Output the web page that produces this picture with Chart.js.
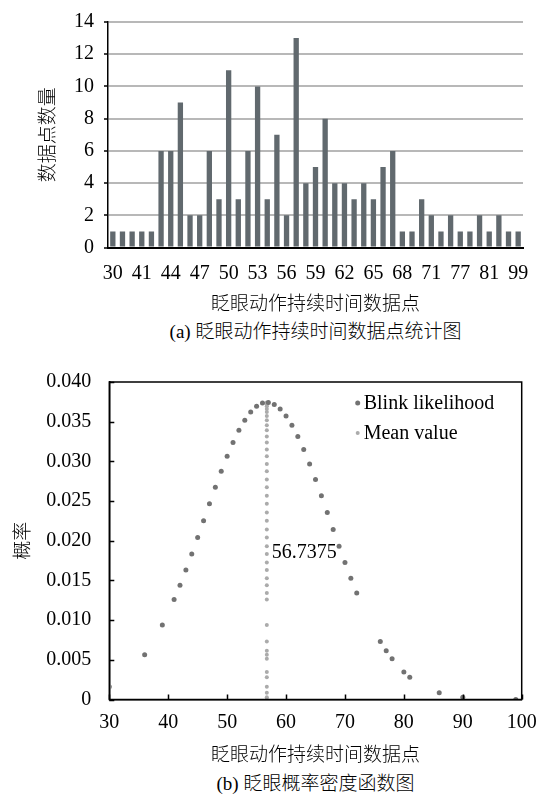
<!DOCTYPE html>
<html>
<head>
<meta charset="utf-8">
<script src="https://cdn.jsdelivr.net/npm/chart.js@4.4.1/dist/chart.umd.min.js"></script>
<style>
html,body{margin:0;padding:0;background:#fff;}
body{width:546px;height:799px;position:relative;overflow:hidden;font-family:'Liberation Serif','Noto Sans CJK SC',serif;color:#000;}
#c1{position:absolute;left:0;top:0;}
#c2{position:absolute;left:0;top:360px;}
.cap{position:absolute;left:108px;width:415px;text-align:center;font-size:19px;line-height:22px;white-space:nowrap;font-weight:300;}
</style>
</head>
<body>
<canvas id="c1" width="546" height="320"></canvas>
<div class="cap" style="top:321px;">(a) 眨眼动作持续时间数据点统计图</div>
<canvas id="c2" width="546" height="410"></canvas>
<div class="cap" style="top:773px;">(b) 眨眼概率密度函数图</div>
<script>
// ---------- data ----------
const categories = [30,36,39,41,42,43,44,45,46,47,48,49,50,51,52,53,54,55,56,57,58,59,60,61,62,63,64,65,66,67,68,69,70,71,72,76,77,78,80,81,86,90,99];
const counts     = [1,1,1,1,1,6,6,9,2,2,6,3,11,3,6,10,3,7,2,13,4,5,8,4,4,3,4,3,5,6,1,1,3,2,1,2,1,1,2,1,2,1,1];
const shownTicks = [30,41,44,47,50,53,56,59,62,65,68,71,77,81,99];

const pdfX = [30,36,39,41,42,43,44,45,46,47,48,49,50,51,52,53,54,55,56,57,58,59,60,61,62,63,64,65,66,67,68,69,70,71,72,76,77,78,80,81,86,90,99];
const pdfY = [0.00161,0.00564,0.00938,0.01259,0.01439,0.01631,0.01833,0.02041,0.02253,0.02466,0.02675,0.02876,0.03065,0.03238,0.03391,0.03519,0.03621,0.03693,0.03734,0.03741,0.03716,0.03659,0.03571,0.03455,0.03313,0.03149,0.02967,0.02771,0.02566,0.02355,0.02142,0.01931,0.01726,0.01529,0.01343,0.00731,0.00615,0.00512,0.00346,0.00281,0.00086,0.00029,0.00001];
const meanValue = 56.7375;
const meanLabelY = 0.0185;

const FONT = "'Liberation Serif','Noto Sans CJK SC',serif";
Chart.defaults.font.family = FONT;
Chart.defaults.font.size = 20;
Chart.defaults.color = '#000';
const titleFont = { size: 19, weight: '300' };

// ---------- chart (a) ----------
new Chart(document.getElementById('c1'), {
  type: 'bar',
  data: {
    labels: categories,
    datasets: [{ label: 'count', data: counts, backgroundColor: '#61696e', barPercentage: 0.55, categoryPercentage: 1.0 }]
  },
  options: {
    responsive: false, animation: false, devicePixelRatio: 1,
    layout: { padding: { top: 19, right: 23, left: 0, bottom: 0 } },
    plugins: { legend: { display: false }, tooltip: { enabled: false } },
    scales: {
      x: {
        type: 'category',
        grid: { display: false },
        border: { display: true, color: '#000', width: 2 },
        ticks: {
          autoSkip: false, maxRotation: 0, padding: 6,
          callback: function(v, i) { const l = categories[i]; return shownTicks.includes(l) ? String(l) : ''; }
        },
        title: { display: true, text: '眨眼动作持续时间数据点', font: titleFont, padding: { top: 0, bottom: 4 } },
        afterFit: s => { s.height = 72.4; }
      },
      y: {
        min: 0, max: 14,
        ticks: { stepSize: 2, padding: 10 },
        grid: {
          display: true, drawOnChartArea: true, drawTicks: true,
          color: '#b8b8b8', lineWidth: 2,
          tickColor: '#000', tickLength: 4, tickWidth: 1.5
        },
        border: { display: true, color: '#000', width: 1.5 },
        title: { display: true, text: '数据点数量', font: titleFont, padding: { top: 38, bottom: 0 } },
        afterFit: s => { s.width = 108; }
      }
    }
  }
});

// ---------- chart (b) ----------
const boxPlugin = {
  id: 'boxPlugin',
  afterDraw(chart) {
    const { ctx, chartArea: a, scales: { x, y } } = chart;
    ctx.save();
    ctx.strokeStyle = '#000';
    ctx.lineWidth = 1.5;
    ctx.strokeRect(a.left, a.top, a.right - a.left, a.bottom - a.top);
    ctx.beginPath();
    x.ticks.forEach(t => { const px = Math.round(x.getPixelForValue(t.value)) + 0.5; ctx.moveTo(px, a.bottom); ctx.lineTo(px, a.bottom - 5); });
    y.ticks.forEach(t => { const py = Math.round(y.getPixelForValue(t.value)) + 0.5; ctx.moveTo(a.left, py); ctx.lineTo(a.left + 5, py); });
    ctx.stroke();
    ctx.font = '20px ' + FONT;
    ctx.fillStyle = '#000';
    ctx.textBaseline = 'middle';
    ctx.textAlign = 'left';
    ctx.fillText(String(meanValue), x.getPixelForValue(meanValue) + 5, y.getPixelForValue(meanLabelY));
    chart.data.datasets.forEach((ds, i) => {
      const lx = a.right - 164;
      const ly = a.top + 21 + i * 30;
      ctx.fillStyle = ds.backgroundColor;
      ctx.beginPath(); ctx.arc(lx, ly, ds.pointRadius, 0, Math.PI * 2); ctx.fill();
      ctx.fillStyle = '#000';
      ctx.fillText(ds.label, lx + 6, ly + 1);
    });
    ctx.restore();
  }
};

new Chart(document.getElementById('c2'), {
  type: 'scatter',
  data: {
    datasets: [
      { label: 'Blink likelihood', data: pdfX.map((v, i) => ({ x: v, y: pdfY[i] })), backgroundColor: '#727272', borderWidth: 0, pointRadius: 2.5 },
      { label: 'Mean value', data: pdfY.map(v => ({ x: meanValue, y: v })), backgroundColor: '#ababab', borderWidth: 0, pointRadius: 2 }
    ]
  },
  options: {
    responsive: false, animation: false, devicePixelRatio: 1,
    layout: { padding: { top: 22, right: 24.3, left: 0, bottom: 0 } },
    plugins: { legend: { display: false }, tooltip: { enabled: false } },
    scales: {
      x: {
        type: 'linear', min: 30, max: 100,
        ticks: { stepSize: 10, padding: 3, maxRotation: 0 },
        grid: { display: false },
        border: { display: true, color: '#000', width: 1.5 },
        title: { display: true, text: '眨眼动作持续时间数据点', font: titleFont, padding: { top: 0, bottom: 3 } },
        afterFit: s => { s.height = 70.5; }
      },
      y: {
        min: 0, max: 0.04,
        ticks: { stepSize: 0.005, padding: 10, callback: v => (Math.abs(v) < 1e-9 ? '0' : v.toFixed(3)) },
        grid: { display: false },
        border: { display: true, color: '#000', width: 1.5 },
        title: { display: true, text: '概率', font: titleFont, padding: { top: 13, bottom: 0 } },
        afterFit: s => { s.width = 109.3; }
      }
    }
  },
  plugins: [boxPlugin]
});
</script>
</body>
</html>
